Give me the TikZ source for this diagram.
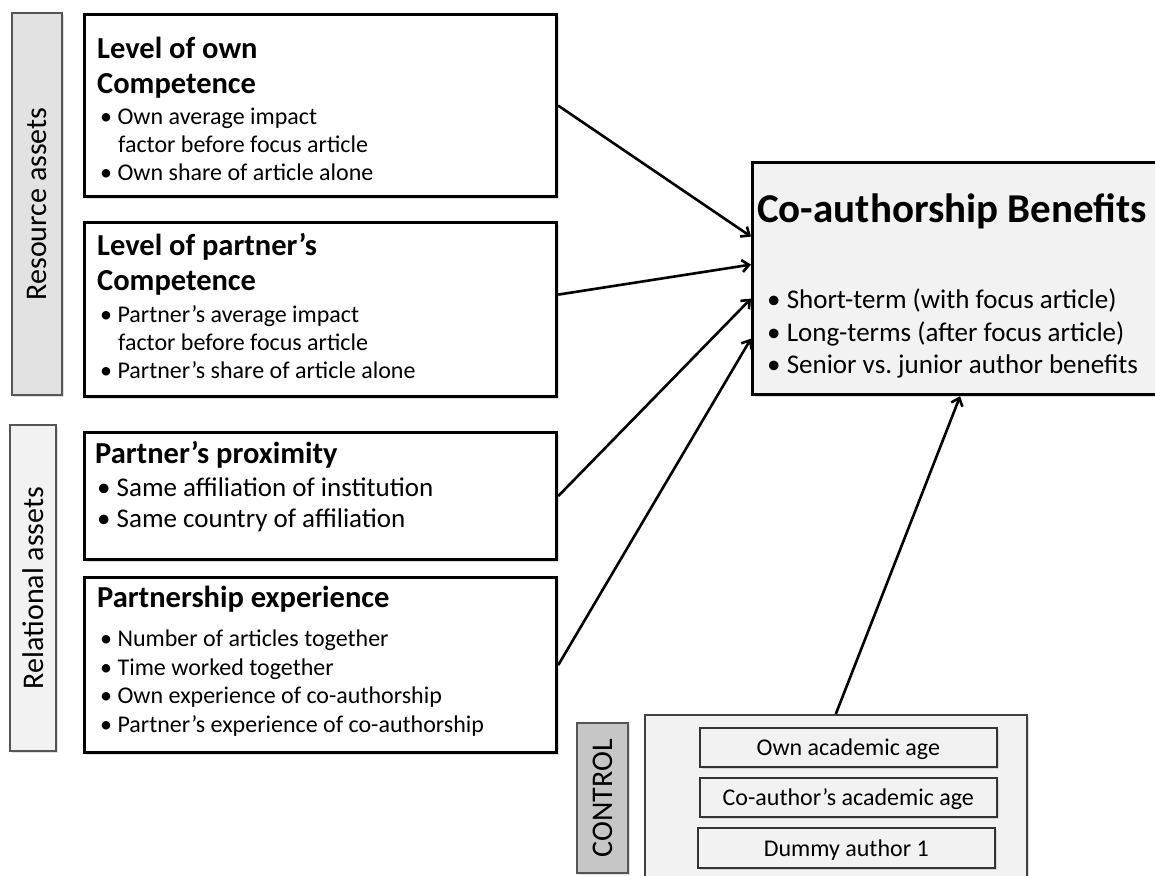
\documentclass[tikz,border=0pt]{standalone}
\usepackage{fontspec}
\setmainfont{Carlito}
\usetikzlibrary{arrows.meta,shadows}
\definecolor{paleGray}{HTML}{F2F2F2}
\definecolor{midGray}{HTML}{E2E2E2}
\definecolor{darkGray}{HTML}{C6C6C6}
\definecolor{rimGray}{HTML}{555555}
\tikzset{
  softshadow/.style={drop shadow={shadow xshift=2pt, shadow yshift=-2pt, opacity=0.25}},
  factor/.style={draw=black, line width=3.2pt, fill=white, anchor=north west, inner sep=0pt, softshadow},
  group/.style={draw=rimGray, line width=1.8pt, rotate=90, inner sep=0pt, softshadow,
    font=\fontsize{30}{34}\selectfont},
  heading/.style={anchor=north west, inner sep=0pt, align=left, font=\fontsize{30.5}{35}\selectfont\bfseries},
  items/.style={anchor=north west, inner sep=0pt, align=left, font=\fontsize{24}{28}\selectfont},
  ctrlitem/.style={draw=black!80, line width=1.6pt, fill=paleGray, anchor=north west, inner sep=0pt,
    minimum width=297, minimum height=39, text height=17, text depth=0, softshadow,
    font=\fontsize{24}{28}\selectfont},
  arrow/.style={-{Straight Barb[length=7pt,width=12pt]}, line width=2.6pt}
}
\begin{document}
\begin{tikzpicture}[x=1pt,y=-1pt]
\useasboundingbox (0,0) rectangle (1155,875);
\node(resource) at (37,204)[group, fill=midGray, minimum width=382, minimum height=50] {Resource assets};
\node(relational) at (33,588)[group, fill=paleGray, minimum width=326, minimum height=46] {Relational assets};
\node(ctrllabel) at (602.5,798)[group, fill=darkGray, minimum width=150, minimum height=51] {CONTROL};

\node(own) at (83,13)[factor, minimum width=472, minimum height=182] {};
\node(owntitle) at (97,37)[heading] {Level of own\\Competence};
\node(ownitems) at (100,108)[items] {\textbullet\ Own average impact\\\hspace*{18pt}factor before focus article\\\textbullet\ Own share of article alone};

\node(partner) at (83,221)[factor, minimum width=472, minimum height=174] {};
\node(partnertitle) at (97,233.5)[heading] {Level of partner’s\\Competence};
\node(partneritems) at (100,305)[items] {\textbullet\ Partner’s average impact\\\hspace*{18pt}factor before focus article\\\textbullet\ Partner’s share of article alone};

\node(prox) at (83,431)[factor, minimum width=472, minimum height=127] {};
\node(proxtitle) at (95,441)[heading] {Partner’s proximity};
\node(proxitems) at (97,478)[items, font=\fontsize{27}{31}\selectfont] {\textbullet\ Same affiliation of institution\\\textbullet\ Same country of affiliation};

\node(exper) at (83,576)[factor, minimum width=472, minimum height=175] {};
\node(expertitle) at (97,586)[heading] {Partnership experience};
\node(experitems) at (100,630)[items, font=\fontsize{24}{28.5}\selectfont] {\textbullet\ Number of articles together\\\textbullet\ Time worked together\\\textbullet\ Own experience of co-authorship\\\textbullet\ Partner’s experience of co-authorship};

\node(benefit) at (751,161)[factor, fill=paleGray, minimum width=415, minimum height=232] {};
\node(benefittitle) at (757,193)[heading, font=\fontsize{41}{46}\selectfont\bfseries] {Co-authorship Benefits};
\node(benefititems) at (767,289)[items, font=\fontsize{27}{32.5}\selectfont] {\textbullet\ Short-term (with focus article)\\\textbullet\ Long-terms (after focus article)\\\textbullet\ Senior vs.\ junior author benefits};

\node(control) at (644,714)[draw=black!75, line width=1.6pt, fill=paleGray, anchor=north west, inner sep=0pt,
  minimum width=382, minimum height=190, softshadow] {};
\node(ownage) at (699,727)[ctrlitem] {Own academic age};
\node(coage) at (699,777)[ctrlitem] {Co-author’s academic age};
\node(dummy) at (697,827)[ctrlitem, minimum height=40] {Dummy author 1};

\path [arrow]
  (own.east)                 edge ([yshift=42]benefit.west)
  ([yshift=15]partner.east)  edge ([yshift=14]benefit.west)
  (prox.east)                edge ([yshift=-20]benefit.west)
  (exper.east)               edge ([yshift=-60]benefit.west)
  (control.north)            edge (benefit.south);
\end{tikzpicture}
\end{document}
